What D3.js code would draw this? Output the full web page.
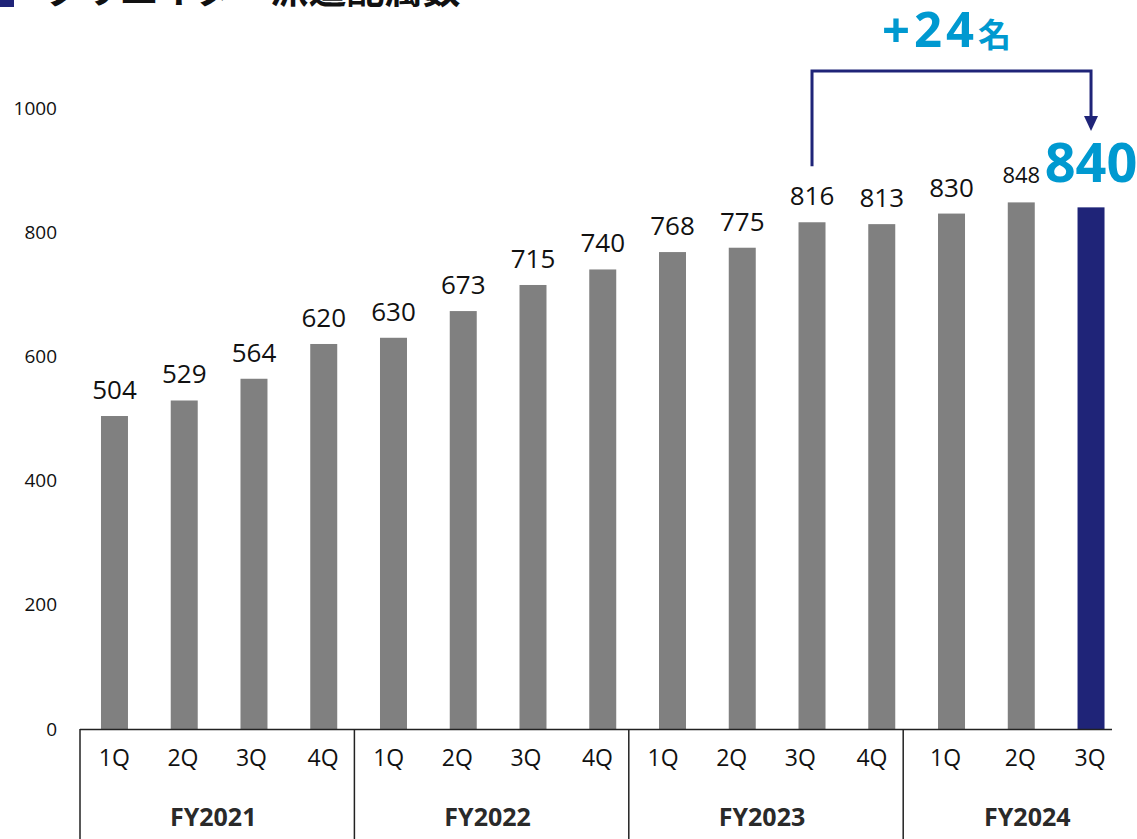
<!DOCTYPE html>
<html><head><meta charset="utf-8">
<script src="https://cdn.jsdelivr.net/npm/d3@7"></script>
<style>body{margin:0;background:#fff}svg{display:block}</style>
</head><body>
<script>
const quarters = ["1Q","2Q","3Q","4Q","1Q","2Q","3Q","4Q","1Q","2Q","3Q","4Q","1Q","2Q","3Q"];
const fiscalYears = ["FY2021","FY2022","FY2023","FY2024"];
const fyOf = ["FY2021","FY2021","FY2021","FY2021","FY2022","FY2022","FY2022","FY2022","FY2023","FY2023","FY2023","FY2023","FY2024","FY2024","FY2024"];
const values = [504,529,564,620,630,673,715,740,768,775,816,813,830,848,840];
const yTicks = [0,200,400,600,800,1000];
const title = "クリエイター派遣配属数";
const deltaLabel = "+24";
const deltaUnit = "名";

const W = 1137, H = 839;
const svg = d3.select("body").append("svg").attr("width", W).attr("height", H);
const font = "'Open Sans','Noto Sans CJK JP',sans-serif";

// bars
const x = d3.scaleBand().domain(d3.range(values.length)).range([79.6, 1125.9]).paddingInner(0.613).paddingOuter(0.3065);
const y = d3.scaleLinear().domain([0, 1000]).range([729, 108]);
const cx = i => x(i) + x.bandwidth() / 2;
// table grid below the axis (4 quarter cells per fiscal year)
const xTable = d3.scaleBand().domain(d3.range(16)).range([80, 1177.6]);

// title (cut off at top, as in the source)
svg.append("rect").attr("x", 0).attr("y", -20).attr("width", 14).attr("height", 27).attr("fill", "#1f2478");
svg.append("text").attr("x", 44).attr("y", 3).attr("font-family", "'Noto Sans CJK JP',sans-serif")
  .attr("font-weight", 700).attr("font-size", 38).attr("fill", "#111").text(title);

// y axis labels
const yAxis = d3.axisLeft(y).tickValues(yTicks).tickSize(0).tickPadding(0).tickFormat(d3.format("d"));
const ga = svg.append("g").attr("transform", "translate(57,0)").call(yAxis);
ga.select(".domain").remove();
ga.selectAll("text").attr("font-family", font).attr("font-size", 19).attr("fill", "#111");

const last = values.length - 1;
svg.selectAll("rect.bar").data(values).join("rect").attr("class", "bar")
  .attr("x", (d, i) => x(i))
  .attr("width", x.bandwidth())
  .attr("y", d => y(d)).attr("height", d => y(0) - y(d))
  .attr("fill", (d, i) => i === last ? "#1f2478" : "#808080");

// value labels
svg.selectAll("text.val").data(values.slice(0, last)).join("text").attr("class", "val")
  .attr("x", (d, i) => cx(i))
  .attr("y", (d, i) => y(d) - (i === last - 1 ? 19 : 17))
  .attr("text-anchor", "middle").attr("font-family", font)
  .attr("font-size", (d, i) => i === last - 1 ? 22 : 26).attr("fill", "#111").text(d => d);
svg.append("text").attr("x", cx(last)).attr("y", y(values[last]) - 25)
  .attr("text-anchor", "middle").attr("font-family", font).attr("font-weight", 700)
  .attr("font-size", 54).attr("fill", "#0099d0").text(values[last]);

// bracket annotation
const fromI = 10;
svg.append("path")
  .attr("d", `M${cx(fromI)},${y(values[fromI]) - 56}V71H${cx(last)}V118`)
  .attr("fill", "none").attr("stroke", "#1f2478").attr("stroke-width", 3);
svg.append("path")
  .attr("d", `M${cx(last) - 7},116L${cx(last) + 7},116L${cx(last)},131Z`).attr("fill", "#1f2478");
const dt = svg.append("text").attr("x", (cx(fromI) + cx(last)) / 2 - 5).attr("y", 47)
  .attr("text-anchor", "middle").attr("font-family", font).attr("font-weight", 700).attr("fill", "#0099d0");
dt.append("tspan").attr("font-size", 49).attr("letter-spacing", 4).text(deltaLabel);
dt.append("tspan").attr("font-size", 33).attr("font-family", "'Noto Sans CJK JP',sans-serif").text(deltaUnit);

// category axis
svg.append("line").attr("x1", 80).attr("x2", 1112).attr("y1", 729.5).attr("y2", 729.5).attr("stroke", "#222").attr("stroke-width", 1.5);
const qx = i => fyOf[i] === "FY2024" ? cx(i) - (i === 12 ? 6 : 1) : xTable(i) + xTable.bandwidth() / 2 + (i % 4 === 3 ? 3 : 0);
svg.selectAll("text.q").data(quarters).join("text").attr("class", "q")
  .attr("x", (d, i) => qx(i)).attr("y", 766).attr("text-anchor", "middle")
  .attr("font-family", font).attr("font-size", 23).attr("fill", "#111").text(d => d);

fiscalYears.forEach((fy) => {
  const idx = fyOf.map((f, i) => f === fy ? i : -1).filter(i => i >= 0);
  const x0 = xTable(idx[0]);
  const mid = fy === "FY2024" ? (cx(idx[0]) + cx(idx[idx.length - 1])) / 2 + 6 : x0 + 2 * xTable.step() - 4;
  svg.append("line").attr("x1", x0).attr("x2", x0).attr("y1", 729).attr("y2", H).attr("stroke", "#222").attr("stroke-width", 1.5);
  svg.append("text").attr("x", mid)
    .attr("y", 826).attr("text-anchor", "middle").attr("font-family", font).attr("font-weight", 700)
    .attr("font-size", 25).attr("fill", "#2a2a2a").text(fy);
});
</script>
</body></html>
